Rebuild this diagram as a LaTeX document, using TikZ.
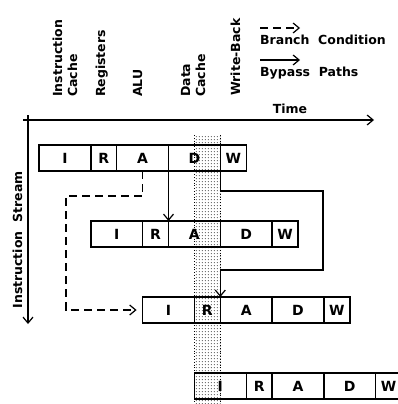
\documentclass[tikz,border=0pt]{standalone}
\usepackage{fontspec}
\setmainfont{DejaVu Sans}
\usetikzlibrary{arrows.meta,patterns,calc}
\pgfdeclarepatternformonly{stipple}{\pgfpointorigin}{\pgfpoint{3.2pt}{3.2pt}}{\pgfpoint{3.2pt}{3.2pt}}{%
  \pgfpathcircle{\pgfpoint{1.6pt}{1.6pt}}{0.65pt}\pgfusepath{fill}}
\tikzset{
  lbl/.style={font=\fontsize{12.5}{15}\selectfont\bfseries, inner sep=0pt},
  collbl/.style={lbl, rotate=90, anchor=base west},
  stagebox/.style={draw, line width=1.4pt, minimum height=26pt, inner sep=0pt, outer sep=0pt,
                   anchor=west, font=\fontsize{14}{16}\selectfont\bfseries},
  tip/.style={-{Straight Barb[length=6pt,width=10pt,line width=1.2pt]}},
  bypass/.style={tip, line width=1.2pt},
  branch/.style={tip, line width=1.2pt, dash pattern=on 8pt off 5pt},
  axis/.style={line width=1.2pt, -{Straight Barb[length=6pt,width=10pt,line width=1.2pt]}},
}
\begin{document}
\begin{tikzpicture}[x=1pt,y=-1pt]
\useasboundingbox (0,0) rectangle (398,404);
% shaded band
\fill[pattern=stipple, pattern color=black!75] (194,135) rectangle (220.5,406);
\draw[dotted, line width=0.8pt] (194,135) -- (194,406) (220.5,135) -- (220.5,406);
% column labels
\node[collbl] (c1) at (62,97) {Instruction};
\node[collbl] (c2) at (77,97) {Cache};
\node[collbl] (c3) at (105,97) {Registers};
\node[collbl] (c4) at (142,97) {ALU};
\node[collbl] (c5) at (190,97) {Data};
\node[collbl] (c6) at (205,97) {Cache};
\node[collbl] (c7) at (240,96) {Write-Back};
% legend
\coordinate (lg1a) at (260,28); \coordinate (lg1b) at (300,28);
\coordinate (lg2a) at (260,60); \coordinate (lg2b) at (300,60);
\draw[branch] (lg1a) -- (lg1b);
\draw[bypass] (lg2a) -- (lg2b);
\node[lbl, anchor=base west] (lgt1) at (260,45) {Branch\ \ Condition};
\node[lbl, anchor=base west] (lgt2) at (260,76) {Bypass\ \ Paths};
% axes
\coordinate (tx0) at (23,120); \coordinate (tx1) at (374,120);
\coordinate (sy0) at (28,115); \coordinate (sy1) at (28,324);
\draw[axis] (tx0) -- (tx1);
\draw[axis] (sy0) -- (sy1);
\node[lbl, anchor=base] (time) at (290,113) {Time};
\node[lbl, rotate=90, anchor=base] (stream) at (22,240) {Instruction\ \ Stream};
% pipeline rows
\foreach \k/\yy in {1/158,2/234,3/310,4/386}{
  \pgfmathsetmacro\xl{39+51.8*(\k-1)}
  \node[stagebox, minimum width=51.8pt] (r\k i) at (\xl,\yy) {I};
  \node[stagebox, minimum width=25.9pt] (r\k r) at (r\k i.east) {R};
  \node[stagebox, minimum width=51.8pt] (r\k a) at (r\k r.east) {A};
  \node[stagebox, minimum width=51.8pt] (r\k d) at (r\k a.east) {D};
  \node[stagebox, minimum width=25.9pt] (r\k w) at (r\k d.east) {W};
}
% branch condition path
\coordinate (bk) at (66,310);
\draw[branch] (r1a.south) -- ++(0,25) -| (bk) -- ([xshift=-6pt]r3i.west);
% bypass paths
\draw[bypass] (r1d.south west) -- (r1d.south west |- r2a.north);
\coordinate (bp) at (323,270);
\draw[bypass] (r1w.south west) -- ++(0,20) -| (bp) -| (r3a.north west);
\end{tikzpicture}
\end{document}
